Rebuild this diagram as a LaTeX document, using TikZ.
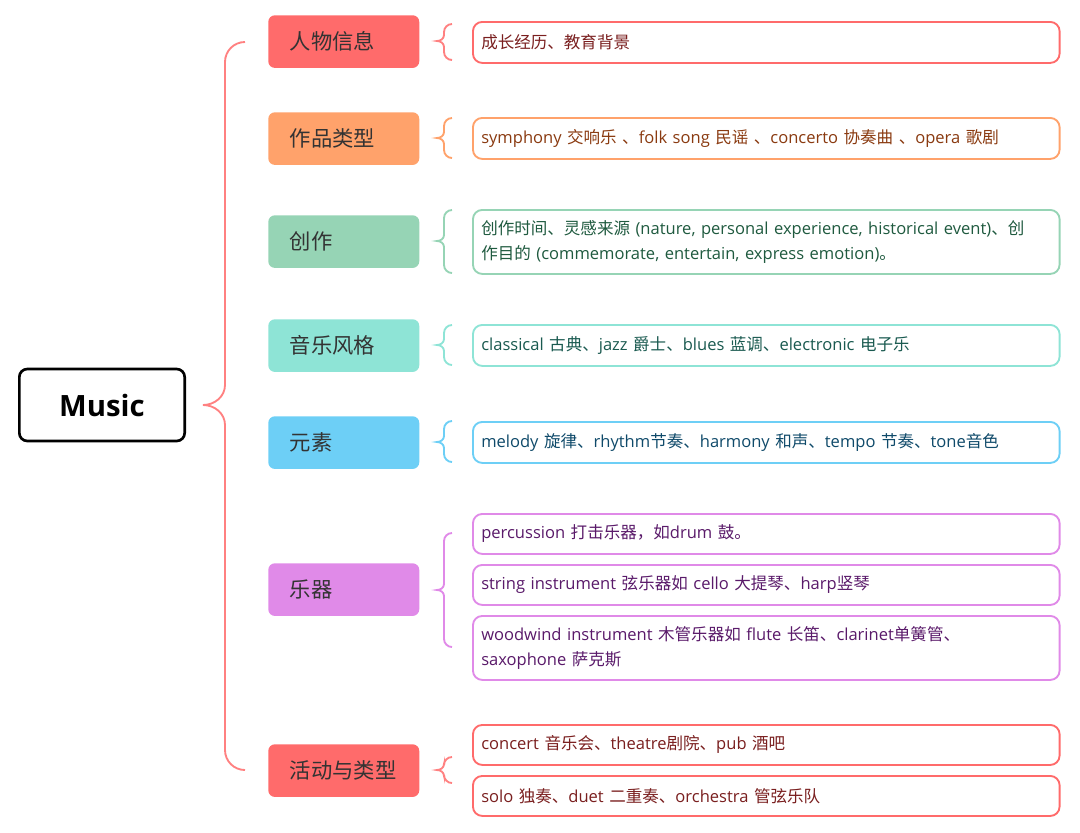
\documentclass[tikz,border=0pt]{standalone}
\usepackage{fontspec}
\setmainfont{Open Sans}
\newfontfamily\cjk{Noto Sans CJK SC}
\newcommand{\C}[1]{{\cjk #1}}
\begin{document}
\begin{tikzpicture}[x=0.75pt,y=-0.75pt,
 cat/.style={rounded corners=5pt,minimum width=113.25pt,minimum height=39.5pt,font=\fontsize{16}{19}\selectfont\cjk,text=black!80,anchor=north west,align=left,text width=81pt,inner xsep=16pt},
 det/.style={rounded corners=7pt,line width=1.4pt,fill=white,minimum width=440pt,anchor=north west},
 dtxt/.style={font=\fontsize{12.4}{18.5}\selectfont,anchor=west,align=left,text width=432pt,inner sep=0pt},
 br/.style={line width=1.4pt}]
\useasboundingbox (0,0) rectangle (1080,832);
\definecolor{cA}{HTML}{FF6B6B}\definecolor{cB}{HTML}{FFA26B}\definecolor{cC}{HTML}{96D4B5}
\definecolor{cD}{HTML}{8EE4D6}\definecolor{cE}{HTML}{6DCFF6}\definecolor{cF}{HTML}{E08AE8}
\definecolor{tA}{HTML}{7A1F1F}\definecolor{tB}{HTML}{8A3A10}\definecolor{tC}{HTML}{1F5A3F}
\definecolor{tD}{HTML}{1A5A50}\definecolor{tE}{HTML}{0F4A6A}\definecolor{tF}{HTML}{5A1A6A}
\node[draw=black,line width=2pt,rounded corners=6pt,minimum width=124pt,minimum height=54pt,font=\fontsize{22}{26}\selectfont\bfseries] (music) at (102,405) {Music};
% big brace
\draw[br,color=cA!85] (245,42) to[out=180,in=90] (225,62) -- (225,385) to[out=-90,in=0] (203,405) to[out=0,in=90] (225,425) -- (225,750) to[out=-90,in=180] (245,770);
% categories
\node[cat,fill=cA] (c1) at (268,15) {人物信息};
\node[cat,fill=cB] (c2) at (268,112) {作品类型};
\node[cat,fill=cC] (c3) at (268,215) {创作};
\node[cat,fill=cD] (c4) at (268,319) {音乐风格};
\node[cat,fill=cE] (c5) at (268,416) {元素};
\node[cat,fill=cF] (c6) at (268,563) {乐器};
\node[cat,fill=cA] (c7) at (268,744) {活动与类型};
% small braces
\newcommand{\sbrace}[4]{\draw[br,color=#1] (452,#2) to[out=180,in=90] (444,#2+8) -- (444,#3-6) to[out=-90,in=0] (437,#3) to[out=0,in=90] (444,#3+6) -- (444,#4-8) to[out=-90,in=180] (452,#4);}
\sbrace{cA!85}{24}{41}{60}
\sbrace{cB}{118}{138}{158}
\sbrace{cC}{210}{241}{273}
\sbrace{cD}{325}{345}{365}
\sbrace{cE}{421}{442}{462}
\sbrace{cF}{533}{590}{647}
\sbrace{cA!85}{757}{770}{783}
% details
\newcommand{\dbox}[6]{\node[det,draw=#2,minimum height=#4*0.75pt] (#1) at (472,#3) {};
 \node[dtxt,text=#5] (#1t) at ([xshift=6.75pt]#1.west) {#6};}
\dbox{d1}{cA}{21}{41}{tA}{\C{成长经历、教育背景}}
\dbox{d2}{cB}{117}{41}{tB}{symphony \C{交响乐} \C{、}folk song \C{民谣} \C{、}concerto \C{协奏曲} \C{、}opera \C{歌剧}}
\dbox{d3}{cC}{209}{64}{tC}{\C{创作时间、灵感来源} (nature, personal experience, historical event)\C{、创}\\\C{作目的} (commemorate, entertain, express emotion)\C{。}}
\dbox{d4}{cD}{324}{41}{tD}{classical \C{古典、}jazz \C{爵士、}blues \C{蓝调、}electronic \C{电子乐}}
\dbox{d5}{cE}{421}{41}{tE}{melody \C{旋律、}rhythm\C{节奏、}harmony \C{和声、}tempo \C{节奏、}tone\C{音色}}
\dbox{d6a}{cF}{513}{40}{tF}{percussion \C{打击乐器，如}drum \C{鼓。}}
\dbox{d6b}{cF}{564}{40}{tF}{string instrument \C{弦乐器如} cello \C{大提琴、}harp\C{竖琴}}
\dbox{d6c}{cF}{615}{64}{tF}{woodwind instrument \C{木管乐器如} flute \C{长笛、}clarinet\C{单簧管、}\\saxophone \C{萨克斯}}
\dbox{d7a}{cA}{724}{40}{tA}{concert \C{音乐会、}theatre\C{剧院、}pub \C{酒吧}}
\dbox{d7b}{cA}{775}{40}{tA}{solo \C{独奏、}duet \C{二重奏、}orchestra \C{管弦乐队}}
\end{tikzpicture}
\end{document}
